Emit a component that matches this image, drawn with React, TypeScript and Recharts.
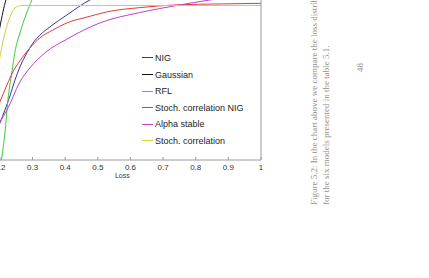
import { LineChart, Line, XAxis, YAxis, Legend } from "recharts";

// tick values
const xTicks = [0.2, 0.3, 0.4, 0.5, 0.6, 0.7, 0.8, 0.9, 1];
const yTicks = [0.94, 0.95, 0.96, 0.97, 0.98, 0.99, 1];

// series
const nigX = [0.1694, 0.2, 0.2153, 0.2306, 0.246, 0.2613, 0.2827, 0.3011, 0.3225, 0.3532, 0.4053, 0.4757, 0.5983, 0.8127, 1];
const nigY = [0.9449, 0.9521, 0.9563, 0.9609, 0.9661, 0.9704, 0.975, 0.9782, 0.9808, 0.9835, 0.9874, 0.9923, 0.9956, 0.9982, 0.9992];

const gaussX = [0.1694, 0.1847, 0.2, 0.2184, 0.246, 0.3225, 0.5, 1];
const gaussY = [0.9645, 0.9743, 0.9835, 0.9923, 0.9972, 0.9995, 0.9998, 0.9999];

const rflX = [0.2046, 0.2153, 0.2245, 0.2368, 0.246, 0.2613, 0.2797, 0.298, 0.3225, 0.3838, 0.506, 1];
const rflY = [0.94, 0.9488, 0.9596, 0.9688, 0.9753, 0.9815, 0.9874, 0.9923, 0.9962, 0.9988, 0.9995, 0.9998];

const scNigX = [0.1694, 0.2, 0.2214, 0.2398, 0.2613, 0.2919, 0.3225, 0.3624, 0.4053, 0.4665, 0.5278, 0.6289, 0.7423, 0.874, 1];
const scNigY = [0.9505, 0.959, 0.9645, 0.9688, 0.9724, 0.9766, 0.9799, 0.9825, 0.9848, 0.9867, 0.9884, 0.9898, 0.9907, 0.991, 0.9912];

const alphaX = [0.1694, 0.2, 0.2214, 0.2613, 0.2919, 0.3379, 0.4053, 0.5064, 0.6289, 0.7423, 0.8434, 1];
const alphaY = [0.9465, 0.9524, 0.9563, 0.9655, 0.9701, 0.975, 0.9795, 0.9848, 0.9882, 0.9905, 0.9923, 0.9942];

const scX = [0.1755, 0.2, 0.2153, 0.2306, 0.246, 0.2674, 0.3, 0.5, 0.7, 1];
const scY = [0.9596, 0.9737, 0.9815, 0.9867, 0.9897, 0.9905, 0.9905, 0.9905, 0.9905, 0.9905];

const toPoints = (xs: number[], ys: number[]) => xs.map((x, i) => ({ x, y: ys[i] }));

const seriesList = [
  { name: "NIG", color: "#3434a6", data: toPoints(nigX, nigY) },
  { name: "Gaussian", color: "#111111", data: toPoints(gaussX, gaussY) },
  { name: "RFL", color: "#3ccc3c", data: toPoints(rflX, rflY) },
  { name: "Stoch. correlation NIG", color: "#e3383a", data: toPoints(scNigX, scNigY) },
  { name: "Alpha stable", color: "#c03fd0", data: toPoints(alphaX, alphaY) },
  { name: "Stoch. correlation", color: "#d2d03c", data: toPoints(scX, scY) },
];

const sans = "'Liberation Sans', Arial, sans-serif";
const serif = "'Liberation Serif', 'DejaVu Serif', serif";

const captionStyle = {
  position: "absolute" as const,
  transformOrigin: "left top",
  transform: "rotate(-90deg)",
  whiteSpace: "nowrap" as const,
  fontFamily: serif,
  fontSize: 9,
  lineHeight: "10px",
  color: "#909090",
};

function LegendBox() {
  return (
    <div style={{ fontFamily: sans, fontSize: 9, color: "#222" }}>
      {seriesList.map((s) => (
        <div key={s.name} style={{ display: "flex", alignItems: "center", height: 16.6 }}>
          <span style={{ width: 11, height: 0, borderTop: `1px solid ${s.color}`, marginRight: 2 }} />
          <span>{s.name}</span>
        </div>
      ))}
    </div>
  );
}

export default function App() {
  return (
    <div>
      <style>{"html,body{margin:0;padding:0;background:#fff;}"}</style>
      <div style={{ position: "absolute", left: -60, top: -40 }}>
        <LineChart
          width={331}
          height={230}
          margin={{ top: 16.4, right: 0, left: 43.6, bottom: 0 }}
        >
          <XAxis
            type="number"
            dataKey="x"
            domain={[0.15, 1]}
            ticks={xTicks}
            tickFormatter={(v: number) => (v === 1 ? "1" : v.toFixed(1))}
            height={30}
            tickSize={-3}
            tickMargin={7}
            stroke="#9a9a9a"
            tick={{ fill: "#333", fontSize: 8, fontFamily: sans }}
            label={{ value: "Loss", position: "insideBottom", offset: 12.5, fontSize: 7, fill: "#333", fontFamily: sans }}
          />
          <YAxis
            orientation="right"
            type="number"
            domain={[0.94, 1]}
            ticks={yTicks}
            width={10}
            tickSize={-3}
            tick={false}
            stroke="#9a9a9a"
          />
          {seriesList.map((s) => (
            <Line
              key={s.name}
              data={s.data}
              dataKey="y"
              name={s.name}
              type="monotone"
              stroke={s.color}
              strokeWidth={1}
              dot={false}
              activeDot={false}
              isAnimationActive={false}
            />
          ))}
          <Legend
            layout="vertical"
            align="center"
            verticalAlign="middle"
            content={() => <LegendBox />}
            wrapperStyle={{ left: 202, top: 89.7, width: "auto", height: "auto" }}
          />
        </LineChart>
      </div>

      <div style={{ ...captionStyle, left: 309, top: 205 }}>
        Figure 5.2: In the chart above we compare the loss distribution
      </div>
      <div style={{ ...captionStyle, left: 321, top: 205 }}>
        for the six models presented in the table 5.1.
      </div>
      <div style={{ ...captionStyle, left: 355, top: 72 }}>48</div>
    </div>
  );
}
